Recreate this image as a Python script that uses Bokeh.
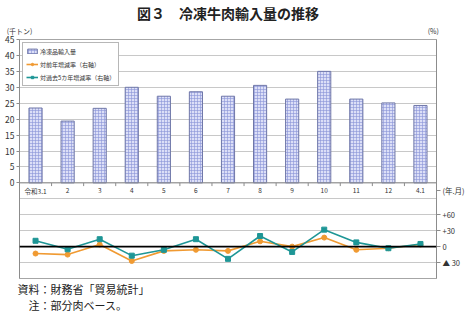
from bokeh.plotting import figure
from bokeh.models import (Range1d, LinearAxis, FixedTicker, Span, Legend, LegendItem, Title)
from bokeh.core.properties import value
from bokeh.embed import file_html
from bokeh.resources import INLINE

months = ["令和3.1", "2", "3", "4", "5", "6", "7", "8", "9", "10", "11", "12", "4.1"]
imports = [23.5, 19.4, 23.4, 30.0, 27.2, 28.6, 27.2, 30.6, 26.3, 35.0, 26.3, 25.1, 24.3]
yoy = [-13, -15, 4, -27, -8, -6, -8, 10, 0, 17, -6, -3, 4]
vs5y = [11, -5, 14, -17, -6, 14, -23, 20, -10, 32, 8, -3, 5]
left_ticks = [0, 5, 10, 15, 20, 25, 30, 35, 40, 45]
right_ticks = [-30, 0, 30, 60]
right_labels = ["▲ 30", "0", "+30", "+60"]
unit_left = "(千トン)"
unit_right = "(%)"
unit_x = "(年.月)"
title_text = "図３　冷凍牛肉輸入量の推移"
note_text = "資料：財務省「貿易統計」\n　注：部分肉ベース。"

FONT = "Noto Sans CJK JP"
W, H = 467, 312
FL, FR, FT, FB = 19, 440, 35, 280
X0, X1 = -0.5, len(months) - 0.5
Y0, Y1 = -30, 45
P0, P1 = -60, 390

def dy(py):
    return Y1 - (py - FT) * (Y1 - Y0) / (FB - FT)

x = list(range(len(months)))

p = figure(width=W, height=H, output_backend="svg", toolbar_location=None,
           x_range=Range1d(X0, X1), y_range=Range1d(Y0, Y1),
           x_axis_location=None, min_border_left=FL, min_border_right=W - FR,
           min_border_top=FT, min_border_bottom=H - FB)
p.background_fill_color = "white"
p.border_fill_color = "white"
p.outline_line_color = "#a6a6a6"
p.outline_line_width = 1
p.xgrid.visible = False
p.ygrid.ticker = FixedTicker(ticks=list(range(-30, 50, 5)))
p.ygrid.grid_line_color = "#c8c8c8"
p.ygrid.grid_line_width = 1

ax = p.yaxis[0]
ax.ticker = FixedTicker(ticks=left_ticks)
ax.axis_line_color = "#8c8c8c"
ax.major_tick_line_color = "#8c8c8c"
ax.major_tick_out = 3
ax.major_tick_in = 0
ax.minor_tick_line_color = None
ax.major_label_standoff = 2
ax.major_label_text_font = FONT
ax.major_label_text_font_size = "8.5px"
ax.major_label_text_color = "#333333"

# right (percent) axis, also carrying the x unit label
p.extra_y_ranges = {"pct": Range1d(P0, P1)}
rax = LinearAxis(y_range_name="pct")
unit_x_pos = 105
rax.ticker = FixedTicker(ticks=right_ticks + [unit_x_pos])
ov = {t: s for t, s in zip(right_ticks, right_labels)}
ov[unit_x_pos] = unit_x
rax.major_label_overrides = ov
rax.axis_line_color = "#8c8c8c"
rax.major_tick_line_color = "#8c8c8c"
rax.major_tick_out = 4
rax.major_tick_in = 0
rax.minor_tick_line_color = None
rax.major_label_standoff = 2
rax.major_label_text_font = FONT
rax.major_label_text_font_size = "7.5px"
rax.major_label_text_color = "#333333"
p.add_layout(rax, "right")

# top axis carrying unit labels
tax = LinearAxis()
tax.ticker = FixedTicker(ticks=[X0, 12.4])
tax.major_label_overrides = {X0: unit_left, 12.4: unit_right}
tax.axis_line_color = None
tax.major_tick_line_color = None
tax.minor_tick_line_color = None
tax.major_tick_out = 0
tax.major_tick_in = 0
tax.major_label_standoff = 4
tax.major_label_text_font = FONT
tax.major_label_text_font_size = "7px"
tax.major_label_text_color = "#333333"
p.add_layout(tax, "above")

bars = p.vbar(x=x, top=imports, width=0.41, bottom=0,
              fill_color="#dcdff7", line_color="#6f77a8", line_width=1,
              hatch_pattern="+", hatch_color="#8a93d6", hatch_scale=3, hatch_weight=0.6)

p.segment(x0=[b + 0.5 for b in x[:-1]], x1=[b + 0.5 for b in x[:-1]],
          y0=[0] * (len(x) - 1), y1=[-1] * (len(x) - 1), line_color="#8c8c8c", line_width=1)
p.segment(x0=[X0], x1=[X1], y0=[0], y1=[0], line_color="#8c8c8c", line_width=1)

p.text(x=x, y=[dy(190)] * len(x), text=months, text_align="center", text_baseline="middle",
       text_font=value(FONT), text_font_size="6.5px", text_color="#333333")

p.add_layout(Span(location=0, dimension="width", y_range_name="pct",
                  line_color="black", line_width=1.6))

orange = "#f09a32"
teal = "#1e9696"
l1 = p.line(x, yoy, y_range_name="pct", line_color=orange, line_width=1.6)
s1 = p.scatter(x, yoy, y_range_name="pct", marker="circle", size=5, fill_color=orange, line_color=orange)
l2 = p.line(x, vs5y, y_range_name="pct", line_color=teal, line_width=1.6)
s2 = p.scatter(x, vs5y, y_range_name="pct", marker="square", size=5, fill_color=teal, line_color=teal)

legend = Legend(items=[
    LegendItem(label="冷凍品輸入量", renderers=[bars]),
    LegendItem(label="対前年増減率（右軸）", renderers=[l1, s1]),
    LegendItem(label="対過去5カ年増減率（右軸）", renderers=[l2, s2]),
], location="top_left")
legend.label_text_font = FONT
legend.label_text_font_size = "6px"
legend.label_text_color = "#333333"
legend.label_standoff = 2
legend.label_height = 10
legend.glyph_width = 12
legend.glyph_height = 6
legend.spacing = 3
legend.padding = 3
legend.margin = 3
legend.border_line_color = "#707070"
legend.border_line_width = 1
legend.background_fill_alpha = 1
p.add_layout(legend)

main = Title(text=title_text, align="center", text_font=FONT,
             text_font_size="14px", text_font_style="bold", text_color="#222222",
             standoff=0, offset=6, text_line_height=0.9)
p.add_layout(main, "above")

note = Title(text=note_text, align="left", text_font=FONT,
             text_font_size="11px", text_font_style="normal", text_color="#222222",
             standoff=0, offset=-2, text_line_height=1.0)
p.add_layout(note, "below")

open("out.html", "w").write(file_html(p, INLINE))
